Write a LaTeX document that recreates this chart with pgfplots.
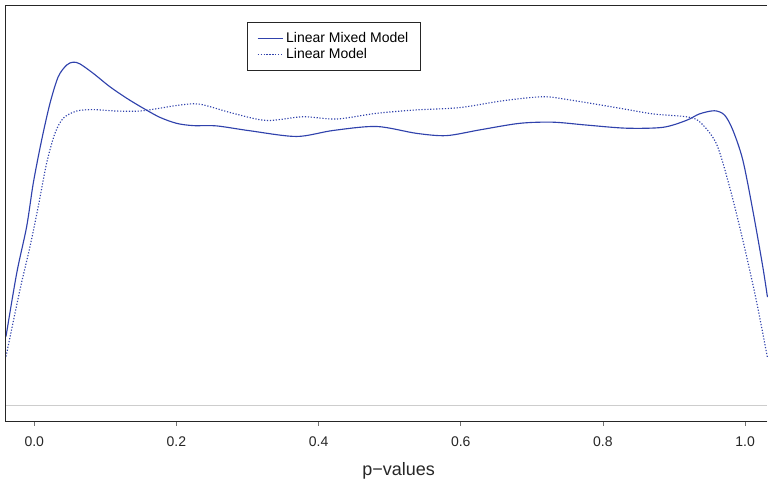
\documentclass[border=0pt]{standalone}
\usepackage{fontspec}
\setmainfont{Liberation Sans}
\usepackage{pgfplots}
\pgfplotsset{compat=1.18}

\definecolor{lineblue}{RGB}{48,66,172}
\definecolor{zerogray}{RGB}{205,205,205}

% density estimates of the p-values
\pgfplotstableread{
x        y
-0.0398  0.241
-0.0247  0.463
-0.0107  0.626
-0.0014  0.778
0.0104   0.929
0.0221   1.057
0.0337   1.150
0.0456   1.191
0.0548   1.201
0.0642   1.195
0.0829   1.162
0.1064   1.115
0.1299   1.075
0.1532   1.040
0.1767   1.008
0.2002   0.987
0.2235   0.979
0.2564   0.978
0.3033   0.961
0.3689   0.941
0.4204   0.962
0.4814   0.976
0.5376   0.952
0.5798   0.944
0.6266   0.964
0.6829   0.987
0.7297   0.991
0.7766   0.981
0.8329   0.970
0.8843   0.973
0.9172   0.997
0.9359   1.020
0.9570   1.031
0.9711   1.016
0.9827   0.964
0.9968   0.859
1.0108   0.684
1.0249   0.486
1.0315   0.379
}\mixedtable

\pgfplotstableread{
x        y
-0.0398  0.171
-0.0201  0.405
-0.0060  0.556
0.0056   0.696
0.0174   0.848
0.0291   0.952
0.0408   1.005
0.0596   1.030
0.0829   1.035
0.1158   1.030
0.1486   1.030
0.1767   1.040
0.2048   1.051
0.2330   1.054
0.2798   1.022
0.3267   0.997
0.3782   1.010
0.4251   1.002
0.4814   1.022
0.5376   1.034
0.5985   1.042
0.6594   1.066
0.7156   1.080
0.7531   1.069
0.8234   1.040
0.8703   1.020
0.9172   1.010
0.9359   0.993
0.9594   0.917
0.9781   0.766
0.9968   0.579
1.0156   0.370
1.0315   0.167
}\lineartable

\begin{document}
\begin{tikzpicture}
\begin{axis}[
    scale only axis,
    width=571.5pt,
    height=312pt,
    xmin=-0.0398, xmax=1.0315,
    ymin=-0.057, ymax=1.3976,
    clip=false,
    axis line style={draw=none},
    xtick={0,0.2,0.4,0.6,0.8,1.0},
    xtick pos=bottom,
    ytick=\empty,
    tick align=outside,
    major tick length=3pt,
    every tick/.style={black!55, line width=0.6pt},
    xticklabel style={font=\fontsize{10.5}{12}\selectfont, text=black!85, yshift=-4.5pt},
    /pgf/number format/assume math mode=true,
    /pgf/number format/.cd, fixed, fixed zerofill, precision=1, /pgfplots/.cd,
    xlabel={p−values},
    xlabel style={font=\fontsize{13.5}{15}\selectfont, text=black!85, xshift=9pt, yshift=-5pt},
    legend style={at={(0.317,0.962)}, anchor=north west, draw=black!85,
        line width=0.6pt, font=\fontsize{10.5}{12}\selectfont,
        inner xsep=7pt, inner ysep=5.5pt, row sep=-1pt},
    legend cell align=left,
    legend image code/.code={\draw[#1] (0pt,0pt) -- (19pt,0pt);},
]
\addplot[zerogray, line width=0.8pt, forget plot] coordinates {(-0.0398,0) (1.0315,0)};
\addplot[lineblue, line width=0.85pt, smooth] table {\mixedtable};
\addplot[lineblue, line width=0.85pt, smooth, dash pattern=on 0.9pt off 1.3pt] table {\lineartable};
\legend{Linear Mixed Model, Linear Model}
\draw[black!85, line width=0.75pt] (rel axis cs:1,0) -- (rel axis cs:0,0) -- (rel axis cs:0,1) -- (rel axis cs:1,1);
\path (rel axis cs:0,1) ++(-4.5pt,4.5pt);
\end{axis}
\end{tikzpicture}
\end{document}
